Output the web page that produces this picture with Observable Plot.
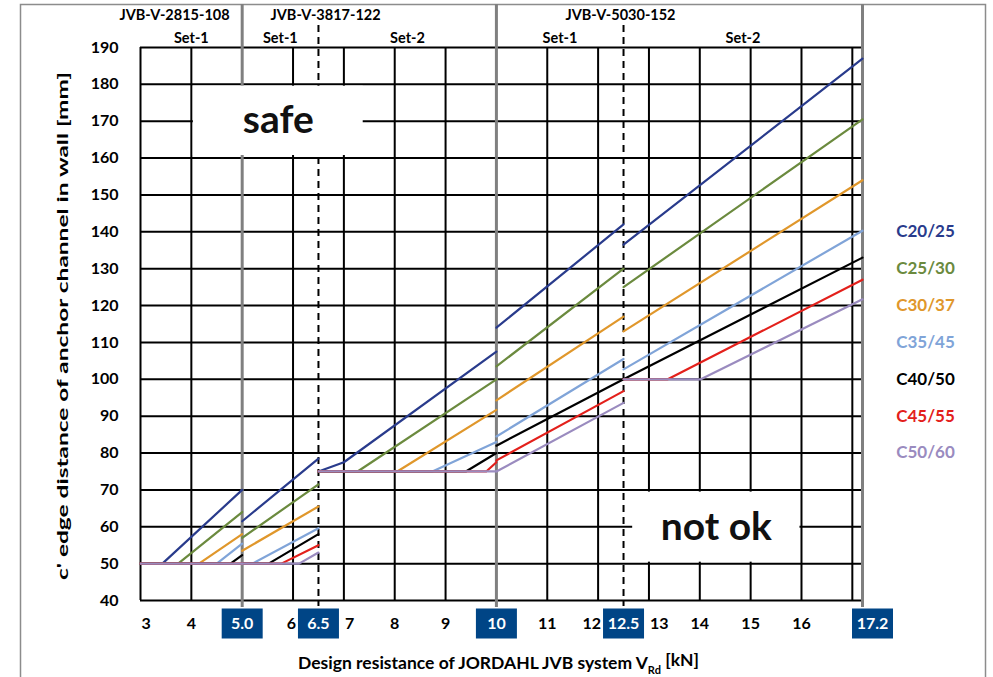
<!DOCTYPE html>
<html><head><meta charset="utf-8">
<script src="https://cdn.jsdelivr.net/npm/d3@7"></script>
<script src="https://cdn.jsdelivr.net/npm/@observablehq/plot@0.6"></script>
<style>
body{margin:0;background:#fff;}
svg{display:block;}
</style></head><body><div id="chart"></div>
<script>
// ---------- data ----------
const classes = ["C20/25","C25/30","C30/37","C35/45","C40/50","C45/55","C50/60"];
const classColors = ["#293b8c","#6b8a3e","#e0972b","#80a4d8","#000000","#e3201b","#9a8bbf"];
const products = ["JVB-V-2815-108","JVB-V-3817-122","JVB-V-5030-152"];
const productLabelX = [3.67, 6.64, 12.44];
const setLabels = ["Set-1","Set-1","Set-2","Set-1","Set-2"];
const setBounds = [3, 5, 6.5, 10, 12.5, 17.2];
const yTicks = [40,50,60,70,80,90,100,110,120,130,140,150,160,170,180,190];
const gridX = [3,4,6,7,8,9,11,12,13,14,15,16,17];
const productBounds = [5, 10, 17.2];
const setSplits = [6.5, 12.5];
const xLabelsStart = [3, 7, 13];
const xLabelsEnd = [6, 12];
const xLabelsMid = [4, 8, 9, 11, 14, 15, 16];
const keyValues = [5, 6.5, 10, 12.5];
const keyLabels = ["5.0", "6.5", "10", "12.5"];
const lastValue = [17.2];
const lastLabel = ["17.2"];
const legendY = [140,130,120,110,100,90,80];
const zones = [
  {label: "safe", x1: 4.04, x2: 7.38, y1: 160.7, y2: 179.5},
  {label: "not ok", x1: 12.68, x2: 15.97, y1: 50.4, y2: 69.4}
];

// series: one list of segments per concrete class, each segment a list of [kN, mm]
const c20_25 = [
  [[3,50],[3.43,50],[5,70]],
  [[5,61.5],[6.5,78.5]],
  [[6.5,75],[7,77.5],[10,107.5]],
  [[10,114],[12.5,142]],
  [[12.5,136.5],[17.2,187]]
];
const c25_30 = [
  [[3,50],[3.74,50],[5,64]],
  [[5,57],[6.5,71.5]],
  [[6.5,75],[7.27,75],[10,100]],
  [[10,103.5],[12.5,130]],
  [[12.5,125],[17.2,170.5]]
];
const c30_37 = [
  [[3,50],[4.15,50],[5,58]],
  [[5,53.5],[6.5,65.5]],
  [[6.5,75],[8.05,75],[10,91.7]],
  [[10,94.3],[12.5,117]],
  [[12.5,113],[17.2,154]]
];
const c35_45 = [
  [[3,50],[4.5,50],[5,55.4]],
  [[5,50],[5.2,50],[6.5,59.6]],
  [[6.5,75],[8.74,75],[10,83]],
  [[10,84.5],[12.5,105.5]],
  [[12.5,102.7],[17.2,140.3]]
];
const c40_50 = [
  [[3,50],[4.77,50],[5,52.3]],
  [[5,50],[5.52,50],[6.5,58]],
  [[6.5,75],[9.4,75],[10,80]],
  [[10,82],[12.5,100]],
  [[12.5,100],[17.2,133]]
];
const c45_55 = [
  [[3,50],[5,50]],
  [[5,50],[5.77,50],[6.5,55]],
  [[6.5,75],[9.8,75],[10,77.5]],
  [[10,78],[12.5,96.8]],
  [[12.5,100],[13.37,100],[17.2,127]]
];
const c50_60 = [
  [[3,50],[5,50]],
  [[5,50],[6.12,50],[6.5,53]],
  [[6.5,75],[10,75]],
  [[10,75],[12.5,93.6]],
  [[12.5,100],[14.02,100],[17.2,121.7]]
];
const seriesList = [c20_25, c25_30, c30_37, c35_45, c40_50, c45_55, c50_60];

const xTitle = "Design resistance of JORDAHL JVB system V";
const yTitle = "c' edge distance of anchor channel in wall [mm]";

// ---------- table ----------
const table = seriesList.flatMap((segs, ci) =>
  segs.flatMap((seg, si) => seg.map(([x, y]) => ({cls: classes[ci], key: classes[ci] + "|" + si, x, y})))
);

const boxSymbol = {draw(ctx) { ctx.rect(-20.5, -15, 41, 30); }};
const font = "Lato, 'Open Sans', sans-serif";
const blue = "#004586";
const M = "middle";

const plot = Plot.plot({
  width: 993, height: 677,
  marginLeft: 140, marginRight: 131, marginTop: 47, marginBottom: 77,
  x: {domain: [3, 17.2], axis: null},
  y: {domain: [40, 190], axis: null},
  color: {domain: classes, range: classColors},
  style: {fontFamily: font, fontSize: "16px", background: "white", color: "black"},
  marks: [
    Plot.ruleY(yTicks, {y: d => d, stroke: "#000", strokeWidth: 2}),
    Plot.ruleX(gridX, {x: d => d, stroke: "#000", strokeWidth: 2}),
    Plot.ruleX(setSplits, {x: d => d, stroke: "#000", strokeWidth: 2, strokeDasharray: "7,5", insetTop: -22, insetBottom: -6}),
    Plot.ruleX(productBounds, {x: d => d, stroke: "#808080", strokeWidth: 3, insetTop: -43, insetBottom: -7}),
    Plot.rect(zones, {x1: "x1", x2: "x2", y1: "y1", y2: "y2", fill: "white"}),
    Plot.text(zones, {x: d => (d.x1 + d.x2) / 2, y: d => (d.y1 + d.y2) / 2, text: "label", fontSize: 39, fontWeight: "bold", fill: "#111"}),
    Plot.line(table, {x: "x", y: "y", z: "key", stroke: "cls", strokeWidth: 2.2}),
    // y tick labels
    Plot.text(yTicks, {y: d => d, text: d => String(d), frameAnchor: "left", textAnchor: "end", lineAnchor: M, dx: -22, fontWeight: "bold", fontSize: 16}),
    // x tick labels
    Plot.text(xLabelsMid, {x: d => d, text: d => String(d), frameAnchor: "bottom", lineAnchor: M, dy: 23, fontWeight: "bold", fontSize: 16}),
    Plot.text(xLabelsStart, {x: d => d, text: d => String(d), frameAnchor: "bottom", lineAnchor: M, dy: 23, textAnchor: "start", dx: 1, fontWeight: "bold", fontSize: 16}),
    Plot.text(xLabelsEnd, {x: d => d, text: d => String(d), frameAnchor: "bottom", lineAnchor: M, dy: 23, textAnchor: "end", dx: 3, fontWeight: "bold", fontSize: 16}),
    Plot.dot(keyValues, {x: d => d, frameAnchor: "bottom", dy: 23, symbol: boxSymbol, fill: blue, stroke: null}),
    Plot.text(keyValues, {x: d => d, text: (d, i) => keyLabels[i], frameAnchor: "bottom", lineAnchor: M, dy: 23, fill: "white", fontWeight: "bold", fontSize: 16}),
    Plot.dot(lastValue, {x: d => d, frameAnchor: "bottom", dy: 23, dx: 10, symbol: boxSymbol, fill: blue, stroke: null}),
    Plot.text(lastValue, {x: d => d, text: (d, i) => lastLabel[i], frameAnchor: "bottom", lineAnchor: M, dy: 23, dx: 10, fill: "white", fontWeight: "bold", fontSize: 16}),
    // header
    Plot.text(products, {x: (d, i) => productLabelX[i], text: d => d, frameAnchor: "top", lineAnchor: M, dy: -32, fontWeight: "bold", fontSize: 14.5}),
    Plot.text(setLabels, {x: (d, i) => (setBounds[i] + setBounds[i + 1]) / 2, text: d => d, frameAnchor: "top", lineAnchor: M, dy: -9, fontWeight: "bold", fontSize: 14.5}),
    // legend
    Plot.text(classes, {y: (d, i) => legendY[i], text: d => d, fill: d => d, frameAnchor: "right", textAnchor: M, lineAnchor: M, dx: 63, fontWeight: "bold", fontSize: 17}),
    // titles
    Plot.text([xTitle], {text: d => d, frameAnchor: "bottom", lineAnchor: M, dy: 63, dx: -3, fontWeight: "bold", fontSize: 17.5}),
    Plot.text([yTitle], {text: d => d, frameAnchor: "left", textAnchor: "start", lineAnchor: M, dx: -78, dy: 256, rotate: -90, fontWeight: "bold", fontSize: 16})
  ]
});

document.getElementById("chart").appendChild(plot);
const svg = d3.select(plot);
svg.insert("rect", ":first-child")
  .attr("x", 20.5).attr("y", 4.5).attr("width", 965).attr("height", 700)
  .attr("fill", "none").attr("stroke", "#8c8c8c").attr("stroke-width", 1.5);
svg.selectAll("text").each(function() {
  const t = d3.select(this);
  const s = this.textContent;
  if (s === xTitle) {
    t.text(null);
    t.append("tspan").text(xTitle);
    t.append("tspan").attr("font-size", 11).attr("dy", "0.45em").text("Rd");
    t.append("tspan").attr("dy", "-0.45em").text(" [kN]");
  } else if (s === yTitle) {
    t.attr("textLength", 508).attr("lengthAdjust", "spacingAndGlyphs");
  }
});
</script></body></html>
